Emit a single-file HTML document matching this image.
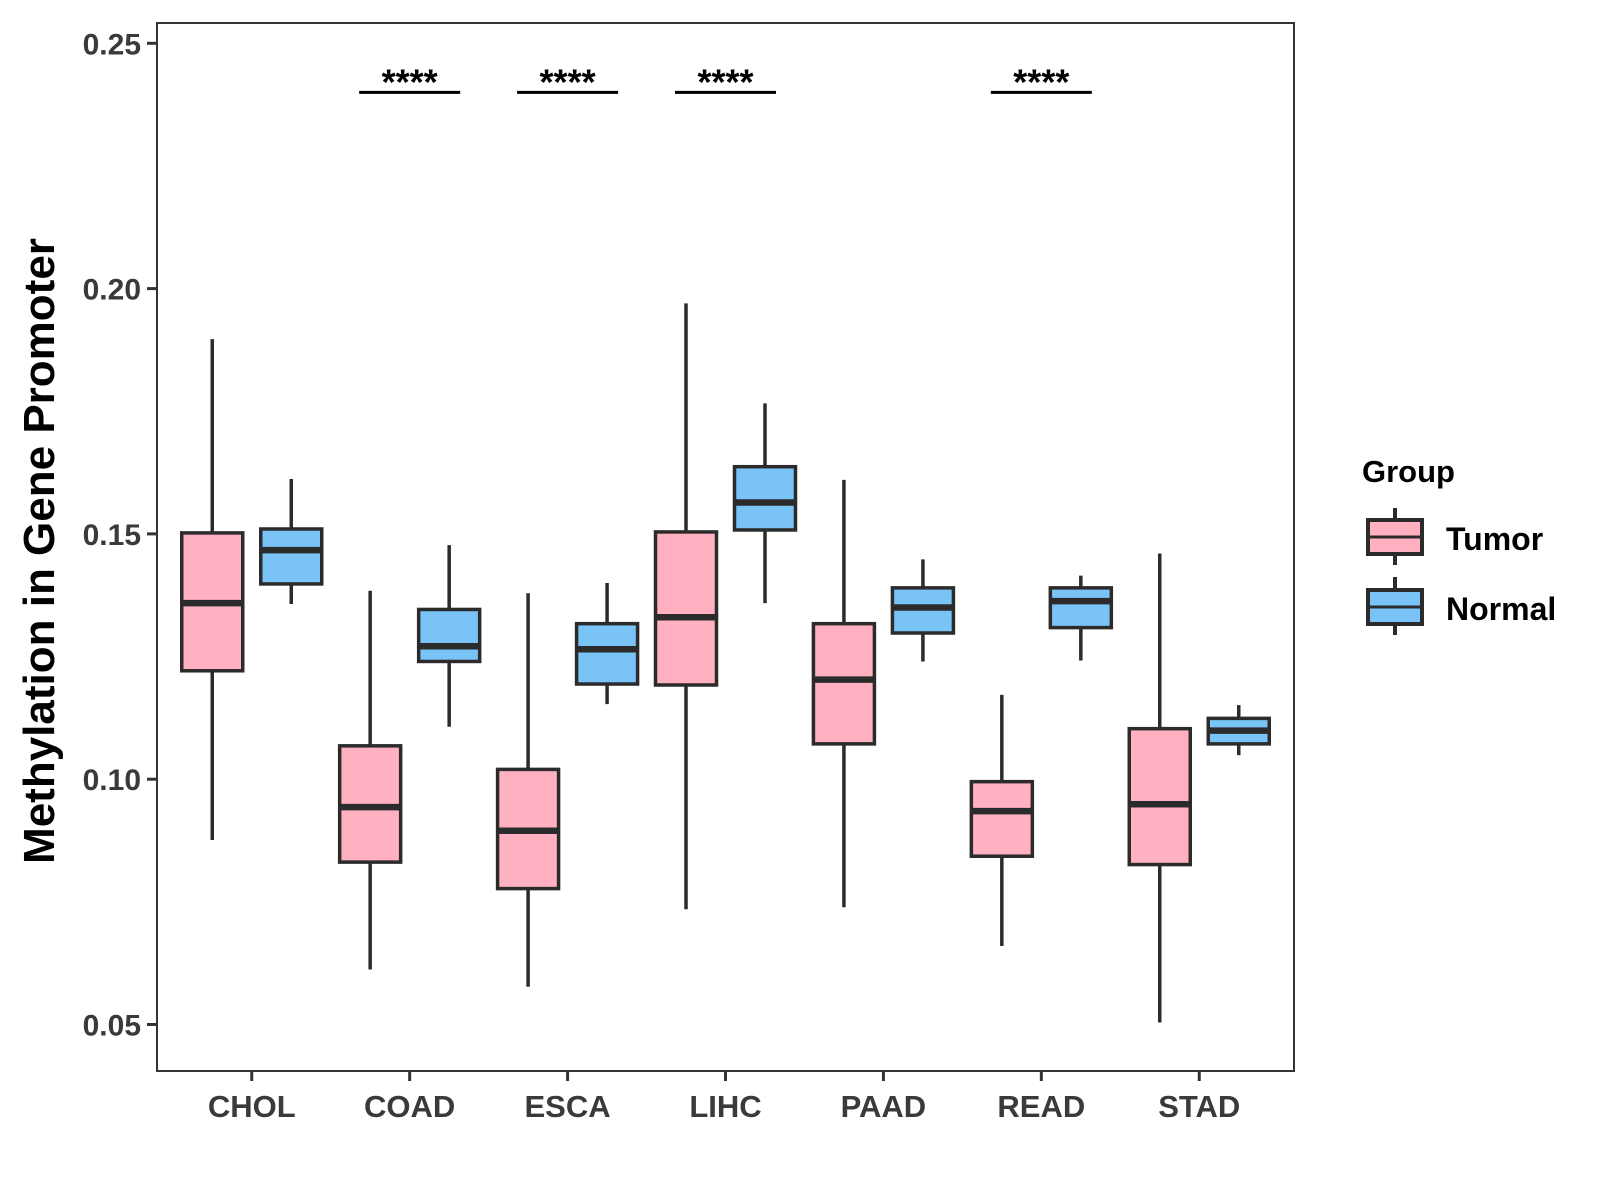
<!DOCTYPE html>
<html><head><meta charset="utf-8"><style>
html,body{margin:0;padding:0;background:#fff}
svg{display:block;font-family:"Liberation Sans",Arial,sans-serif}
</style></head><body>
<svg id="chart" width="1600" height="1200" viewBox="0 0 1600 1200">
<rect x="157" y="23" width="1137" height="1048" fill="#fff" stroke="#333" stroke-width="2"/>
<g id="marks"></g>
<text transform="translate(54,551) rotate(-90)" text-anchor="middle" font-size="44" font-weight="bold" fill="#000">Methylation in Gene Promoter</text>
<g>
<text x="1362" y="482" font-size="31" font-weight="bold" fill="#000">Group</text>
<g>
<line x1="1395" y1="508" x2="1395" y2="565" stroke="#2b2b2b" stroke-width="4"/>
<rect x="1368" y="520" width="54" height="34" fill="#FFB1C1" stroke="#2b2b2b" stroke-width="4"/>
<line x1="1368" y1="537" x2="1422" y2="537" stroke="#2b2b2b" stroke-width="3"/>
<text x="1446" y="550" font-size="32" font-weight="bold" fill="#000">Tumor</text>
</g>
<g>
<line x1="1395" y1="577" x2="1395" y2="635" stroke="#2b2b2b" stroke-width="4"/>
<rect x="1368" y="590" width="54" height="34" fill="#7AC3F6" stroke="#2b2b2b" stroke-width="4"/>
<line x1="1368" y1="607" x2="1422" y2="607" stroke="#2b2b2b" stroke-width="3"/>
<text x="1446" y="620" font-size="32" font-weight="bold" fill="#000">Normal</text>
</g>
</g>
</svg>
<script>
const categories=["CHOL","COAD","ESCA","LIHC","PAAD","READ","STAD"];
const yTicks=[0.05,0.10,0.15,0.20,0.25];
const yTickLabels=["0.05","0.10","0.15","0.20","0.25"];
// [whiskerHigh, q3, median, q1, whiskerLow]
const tumorStats=[
 [0.1897,0.1502,0.1359,0.1221,0.0876],
 [0.1384,0.1068,0.0943,0.0831,0.0612],
 [0.1379,0.1020,0.0895,0.0777,0.0577],
 [0.1970,0.1504,0.1330,0.1192,0.0735],
 [0.1610,0.1317,0.1203,0.1072,0.0739],
 [0.1172,0.0995,0.0935,0.0843,0.0660],
 [0.1460,0.1103,0.0949,0.0826,0.0504]];
const normalStats=[
 [0.1612,0.1510,0.1467,0.1398,0.1357],
 [0.1477,0.1346,0.1271,0.1240,0.1107],
 [0.1400,0.1317,0.1265,0.1194,0.1153],
 [0.1766,0.1637,0.1564,0.1508,0.1359],
 [0.1448,0.1390,0.1350,0.1298,0.1240],
 [0.1415,0.1390,0.1363,0.1309,0.1242],
 [0.1151,0.1124,0.1099,0.1072,0.1049]];
const sigCategories=["COAD","ESCA","LIHC","READ"];
const sigLabels=["****","****","****","****"];
const sigLevel=0.24;

const NS="http://www.w3.org/2000/svg";
const svg=document.getElementById('chart');
const g=document.getElementById('marks');
const panelL=157,panelR=1294;
const step=(panelR-panelL)/(categories.length-1+1.2);
function xScale(i){return panelL+step*(0.6+i);}
function yScale(v){return 43.3+(0.25-v)*4906;}
function mk(tag,attrs,parent){const e=document.createElementNS(NS,tag);for(const k in attrs)e.setAttribute(k,attrs[k]);(parent||g).appendChild(e);return e;}

yTicks.forEach((t,i)=>{
 const y=yScale(t);
 const tk=mk('line',{x1:147,x2:157,y1:y,y2:y,stroke:'#333','stroke-width':3},svg);
 
 
 const tx=mk('text',{x:141,y:y+11,'text-anchor':'end','font-size':30,'font-weight':'bold',fill:'#3a3a3a'},svg);
 tx.textContent=yTickLabels[i];
 
 
});
categories.forEach((c,i)=>{
 const x=xScale(i);
 const tk=mk('line',{x1:x,x2:x,y1:1071,y2:1081,stroke:'#333','stroke-width':3},svg);
 
 
 const tx=mk('text',{x:x,y:1117,'text-anchor':'middle','font-size':31,'font-weight':'bold',fill:'#3a3a3a'},svg);
 tx.textContent=c;
 
 
});
const bw=61, off=39.5;
function drawBox(s,cx,fill,name){
 const grp=mk('g',{});
 
 
 mk('line',{x1:cx,x2:cx,y1:yScale(s[0]),y2:yScale(s[4]),stroke:'#2b2b2b','stroke-width':3.5},grp);
 mk('rect',{x:cx-bw/2,y:yScale(s[1]),width:bw,height:yScale(s[3])-yScale(s[1]),fill:fill,stroke:'#2b2b2b','stroke-width':3.5},grp);
 mk('line',{x1:cx-bw/2,x2:cx+bw/2,y1:yScale(s[2]),y2:yScale(s[2]),stroke:'#2b2b2b','stroke-width':6.5},grp);
}
categories.forEach((c,i)=>{
 drawBox(tumorStats[i],xScale(i)-off,'#FFB1C1','box-tumor-'+c.toLowerCase());
 drawBox(normalStats[i],xScale(i)+off,'#7AC3F6','box-normal-'+c.toLowerCase());
});
sigCategories.forEach((c,k)=>{
 const i=categories.indexOf(c);const y=yScale(sigLevel);
 const ln=mk('line',{x1:xScale(i)-off-11,x2:xScale(i)+off+11,y1:y,y2:y,stroke:'#000','stroke-width':3});
 
 
 const tx=mk('text',{x:xScale(i),y:y+2,'text-anchor':'middle','font-size':36,'font-weight':'bold',fill:'#000'});
 tx.textContent=sigLabels[k];
 
 
});
</script>
</body></html>
